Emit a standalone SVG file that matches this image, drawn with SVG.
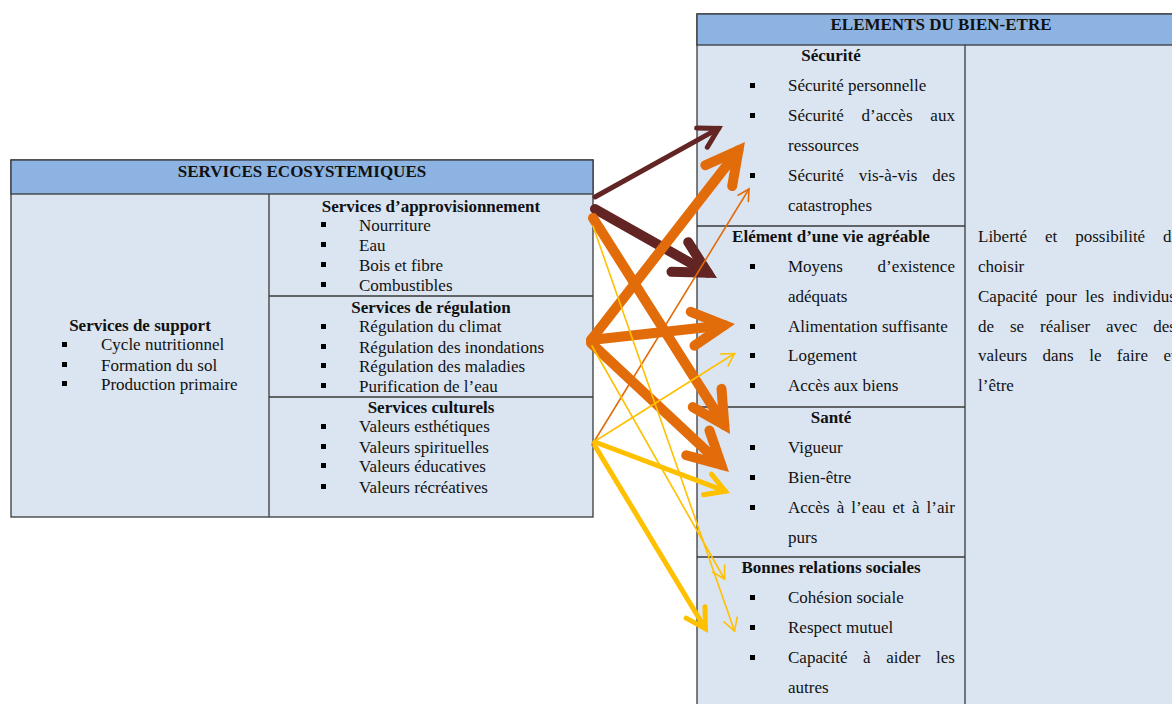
<svg xmlns="http://www.w3.org/2000/svg" width="1172" height="704" viewBox="0 0 1172 704">
<style>
.t{font-family:"Liberation Serif","Times New Roman",serif;font-size:17px;fill:#111;}
.b{font-weight:bold;}
.c{text-anchor:middle;}
.e{text-anchor:end;}
.cell{fill:#DBE5F1;stroke:#3a3a3a;stroke-width:1.3;}
.hdr{fill:#8DB3E2;stroke:#3a3a3a;stroke-width:1.3;}
.div{stroke:#3a3a3a;stroke-width:1.3;}
.bul{fill:#000;}
.ln{fill:none;stroke-linecap:round;}
.br{stroke:#632523;}
.or{stroke:#E36C0A;}
.ye{stroke:#FFC000;}
</style>
<defs>
<marker id="hBr5" markerUnits="userSpaceOnUse" orient="auto" viewBox="-45 -25 60 50" markerWidth="60" markerHeight="50" refX="0" refY="0" overflow="visible"><path d="M-19,-11 L0,0 L-19,11" fill="none" stroke="#632523" stroke-width="5" stroke-linecap="round"/></marker>
<marker id="hBr10" markerUnits="userSpaceOnUse" orient="auto" viewBox="-45 -25 60 50" markerWidth="60" markerHeight="50" refX="0" refY="0" overflow="visible"><path d="M-32,-17 L0,0 L-32,17" fill="none" stroke="#632523" stroke-width="10" stroke-linecap="round"/></marker>
<marker id="hOr10" markerUnits="userSpaceOnUse" orient="auto" viewBox="-45 -25 60 50" markerWidth="60" markerHeight="50" refX="0" refY="0" overflow="visible"><path d="M-32,-17 L0,0 L-32,17" fill="none" stroke="#E36C0A" stroke-width="10" stroke-linecap="round"/></marker>
<marker id="hOrT" markerUnits="userSpaceOnUse" orient="auto" viewBox="-45 -25 60 50" markerWidth="60" markerHeight="50" refX="0" refY="0" overflow="visible"><path d="M-11,-6 L0,0 L-11,6" fill="none" stroke="#E36C0A" stroke-width="1.6" stroke-linecap="round"/></marker>
<marker id="hYeT" markerUnits="userSpaceOnUse" orient="auto" viewBox="-45 -25 60 50" markerWidth="60" markerHeight="50" refX="0" refY="0" overflow="visible"><path d="M-12,-7 L0,0 L-12,7" fill="none" stroke="#FFC000" stroke-width="1.6" stroke-linecap="round"/></marker>
<marker id="hYe5" markerUnits="userSpaceOnUse" orient="auto" viewBox="-45 -25 60 50" markerWidth="60" markerHeight="50" refX="0" refY="0" overflow="visible"><path d="M-19,-11 L0,0 L-19,11" fill="none" stroke="#FFC000" stroke-width="5" stroke-linecap="round"/></marker>
</defs>
<rect width="1172" height="704" fill="#fff"/>

<g id="services-ecosystemiques">
<rect class="cell" x="11" y="160" width="582" height="357"/>
<rect class="hdr" x="11" y="160" width="582" height="34"/>
<line class="div" x1="269" y1="194" x2="269" y2="517"/>
<line class="div" x1="269" y1="296" x2="593" y2="296"/>
<line class="div" x1="269" y1="397" x2="593" y2="397"/>
<text class="t b c" x="302" y="177">SERVICES ECOSYSTEMIQUES</text>
</g>

<g id="services-support">
<text class="t b c" x="140" y="331">Services de support</text>
<rect class="bul" x="62" y="342" width="5" height="5"/><text class="t" x="101" y="350">Cycle nutritionnel</text>
<rect class="bul" x="62" y="362" width="5" height="5"/><text class="t" x="101" y="371">Formation du sol</text>
<rect class="bul" x="62" y="381" width="5" height="5"/><text class="t" x="101" y="390">Production primaire</text>
</g>

<g id="services-approvisionnement">
<text class="t b c" x="431" y="212">Services d’approvisionnement</text>
<rect class="bul" x="321" y="222" width="5" height="5"/><text class="t" x="359" y="231">Nourriture</text>
<rect class="bul" x="321" y="242" width="5" height="5"/><text class="t" x="359" y="251">Eau</text>
<rect class="bul" x="321" y="262" width="5" height="5"/><text class="t" x="359" y="271">Bois et fibre</text>
<rect class="bul" x="321" y="282" width="5" height="5"/><text class="t" x="359" y="291">Combustibles</text>
</g>

<g id="services-regulation">
<text class="t b c" x="431" y="313">Services de régulation</text>
<rect class="bul" x="321" y="324" width="5" height="5"/><text class="t" x="359" y="332">Régulation du climat</text>
<rect class="bul" x="321" y="344" width="5" height="5"/><text class="t" x="359" y="353">Régulation des inondations</text>
<rect class="bul" x="321" y="363" width="5" height="5"/><text class="t" x="359" y="372">Régulation des maladies</text>
<rect class="bul" x="321" y="383" width="5" height="5"/><text class="t" x="359" y="392">Purification de l’eau</text>
</g>

<g id="services-culturels">
<text class="t b c" x="431" y="413">Services culturels</text>
<rect class="bul" x="321" y="424" width="5" height="5"/><text class="t" x="359" y="432">Valeurs esthétiques</text>
<rect class="bul" x="321" y="444" width="5" height="5"/><text class="t" x="359" y="453">Valeurs spirituelles</text>
<rect class="bul" x="321" y="463" width="5" height="5"/><text class="t" x="359" y="472">Valeurs éducatives</text>
<rect class="bul" x="321" y="484" width="5" height="5"/><text class="t" x="359" y="493">Valeurs récréatives</text>
</g>

<g id="elements-bien-etre">
<rect class="cell" x="697" y="14" width="500" height="700"/>
<rect class="hdr" x="697" y="14" width="500" height="31"/>
<line class="div" x1="965" y1="45" x2="965" y2="704"/>
<line class="div" x1="697" y1="226" x2="965" y2="226"/>
<line class="div" x1="697" y1="407" x2="965" y2="407"/>
<line class="div" x1="697" y1="557" x2="965" y2="557"/>
<text class="t b c" x="941" y="30">ELEMENTS DU BIEN-ETRE</text>
</g>

<g id="securite">
<text class="t b c" x="831" y="61">Sécurité</text>
<rect class="bul" x="750" y="83" width="5" height="5"/><text class="t" x="788" y="91">Sécurité personnelle</text>
<rect class="bul" x="750" y="113" width="5" height="5"/><text class="t" x="788" y="121" word-spacing="13.6">Sécurité d’accès aux</text>
<text class="t" x="788" y="151">ressources</text>
<rect class="bul" x="750" y="173" width="5" height="5"/><text class="t" x="788" y="181" word-spacing="10.8">Sécurité vis-à-vis des</text>
<text class="t" x="788" y="211">catastrophes</text>
</g>

<g id="vie-agreable">
<text class="t b c" x="831" y="242">Elément d’une vie agréable</text>
<rect class="bul" x="750" y="264" width="5" height="5"/><text class="t" x="788" y="272" word-spacing="30.5">Moyens d’existence</text>
<text class="t" x="788" y="302">adéquats</text>
<rect class="bul" x="750" y="324" width="5" height="5"/><text class="t" x="788" y="332">Alimentation suffisante</text>
<rect class="bul" x="750" y="353" width="5" height="5"/><text class="t" x="788" y="361">Logement</text>
<rect class="bul" x="750" y="383" width="5" height="5"/><text class="t" x="788" y="391">Accès aux biens</text>
</g>

<g id="sante">
<text class="t b c" x="831" y="423">Santé</text>
<rect class="bul" x="750" y="445" width="5" height="5"/><text class="t" x="788" y="453">Vigueur</text>
<rect class="bul" x="750" y="475" width="5" height="5"/><text class="t" x="788" y="483">Bien-être</text>
<rect class="bul" x="750" y="505" width="5" height="5"/><text class="t" x="788" y="513" word-spacing="2.9">Accès à l’eau et à l’air</text>
<text class="t" x="788" y="543">purs</text>
</g>

<g id="relations-sociales">
<text class="t b c" x="831" y="573">Bonnes relations sociales</text>
<rect class="bul" x="750" y="595" width="5" height="5"/><text class="t" x="788" y="603">Cohésion sociale</text>
<rect class="bul" x="750" y="625" width="5" height="5"/><text class="t" x="788" y="633">Respect mutuel</text>
<rect class="bul" x="750" y="655" width="5" height="5"/><text class="t" x="788" y="663" word-spacing="11.4">Capacité à aider les</text>
<text class="t" x="788" y="693">autres</text>
</g>

<g id="liberte">
<text class="t" x="978" y="242" word-spacing="13.7">Liberté et possibilité de</text>
<text class="t" x="978" y="272">choisir</text>
<text class="t" x="978" y="302" word-spacing="4.1">Capacité pour les individus</text>
<text class="t" x="978" y="332" word-spacing="11.7">de se réaliser avec des</text>
<text class="t" x="978" y="361" word-spacing="11.2">valeurs dans le faire et</text>
<text class="t" x="978" y="391">l’être</text>
</g>

<g id="connectors">
<path class="ln br" stroke-width="5" d="M595,197 L718.6,128.4" marker-end="url(#hBr5)"/>
<path class="ln br" stroke-width="10" d="M595,209 L707.7,272.7" marker-end="url(#hBr10)"/>
<path class="ln or" stroke-width="10" d="M593,218 L724.3,425" marker-end="url(#hOr10)"/>
<path class="ln or" stroke-width="10" d="M591,340 L738.4,150.4" marker-end="url(#hOr10)"/>
<path class="ln or" stroke-width="10" d="M591,340 L724.4,325.2" marker-end="url(#hOr10)"/>
<path class="ln or" stroke-width="10" d="M591,343 L721.2,464.7" marker-end="url(#hOr10)"/>
<path class="ln or" stroke-width="1.6" d="M592,445 L749,189" marker-end="url(#hOrT)"/>
<path class="ln ye" stroke-width="1.6" d="M593,226 L734.5,631" marker-end="url(#hYeT)"/>
<path class="ln ye" stroke-width="1.6" d="M592,346 L724.5,579" marker-end="url(#hYeT)"/>
<path class="ln ye" stroke-width="1.6" d="M592,443 L734.5,353.5" marker-end="url(#hYeT)"/>
<path class="ln ye" stroke-width="5" d="M595,442 L725.3,491.2" marker-end="url(#hYe5)"/>
<path class="ln ye" stroke-width="5" d="M595,446 L705.4,628.7" marker-end="url(#hYe5)"/>
</g>
</svg>
